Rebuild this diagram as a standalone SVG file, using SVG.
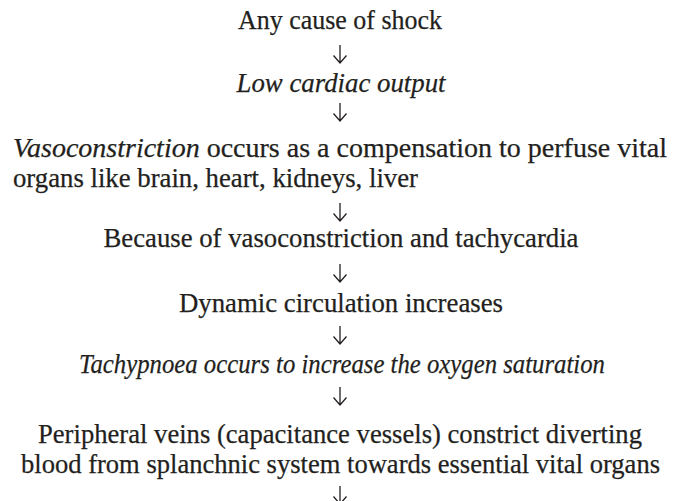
<svg xmlns="http://www.w3.org/2000/svg" width="682" height="501" viewBox="0 0 682 501">
<style>
.t{font-family:"Liberation Serif","Times New Roman",serif;font-size:27.5px;fill:#231f20;stroke:#231f20;stroke-width:0.25}
.c{text-anchor:middle}
.i{font-style:italic}
.a{fill:none;stroke:#231f20;stroke-width:1.3}
</style>
<rect width="682" height="501" fill="#fff"/>
<g id="n1"><text class="t c" x="340" y="29" textLength="204" lengthAdjust="spacingAndGlyphs">Any cause of shock</text></g>
<g id="n2"><text class="t c i" x="341" y="92" textLength="209" lengthAdjust="spacingAndGlyphs">Low cardiac output</text></g>
<g id="n3"><text class="t" x="13" y="157" textLength="654" lengthAdjust="spacingAndGlyphs"><tspan class="i">Vasoconstriction</tspan> occurs as a compensation to perfuse vital</text>
<text class="t" x="13" y="187" textLength="405" lengthAdjust="spacingAndGlyphs">organs like brain, heart, kidneys, liver</text></g>
<g id="n4"><text class="t c" x="341" y="247" textLength="475" lengthAdjust="spacingAndGlyphs">Because of vasoconstriction and tachycardia</text></g>
<g id="n5"><text class="t c" x="341" y="312" textLength="324" lengthAdjust="spacingAndGlyphs">Dynamic circulation increases</text></g>
<g id="n6"><text class="t c i" x="342" y="373" textLength="526" lengthAdjust="spacingAndGlyphs">Tachypnoea occurs to increase the oxygen saturation</text></g>
<g id="n7"><text class="t c" x="340" y="443" textLength="604" lengthAdjust="spacingAndGlyphs">Peripheral veins (capacitance vessels) constrict diverting</text>
<text class="t c" x="340.5" y="473" textLength="639" lengthAdjust="spacingAndGlyphs">blood from splanchnic system towards essential vital organs</text></g>
<g id="connectors">
<path class="a" d="M340,45V63M333.5,55.5L340,63L346.5,55.5"/>
<path class="a" d="M340,103V121M333.5,113.5L340,121L346.5,113.5"/>
<path class="a" d="M340,203V221M333.5,213.5L340,221L346.5,213.5"/>
<path class="a" d="M340,264V282M333.5,274.5L340,282L346.5,274.5"/>
<path class="a" d="M340,326V344M333.5,336.5L340,344L346.5,336.5"/>
<path class="a" d="M340,387V405M333.5,397.5L340,405L346.5,397.5"/>
<path class="a" d="M340,486V504M333.5,496.5L340,504L346.5,496.5"/>
</g>
</svg>
